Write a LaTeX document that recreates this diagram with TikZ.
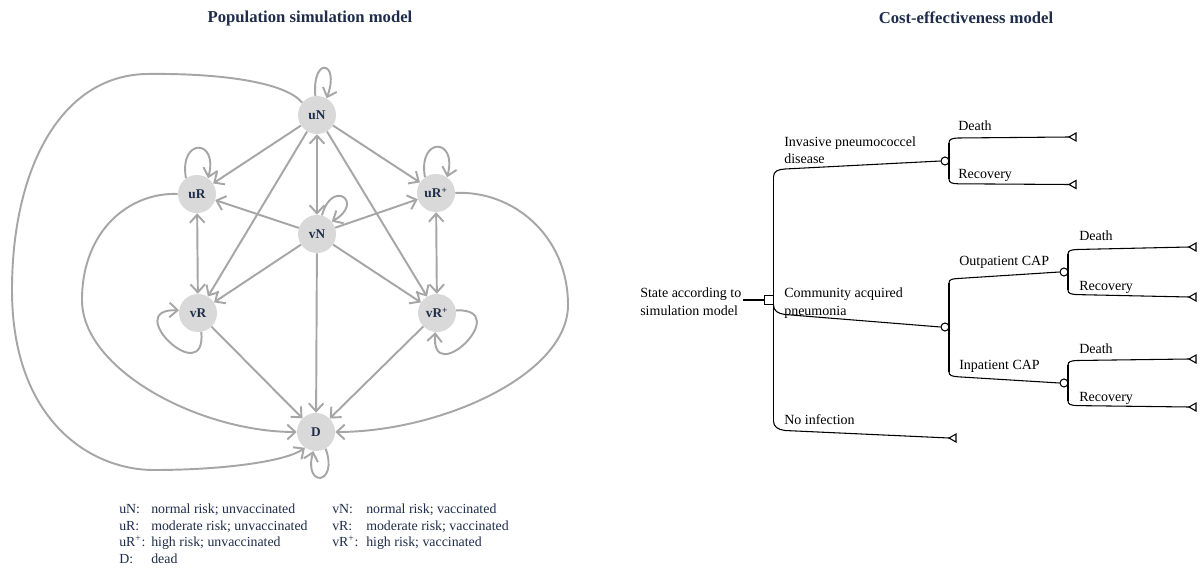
\documentclass[tikz,border=0pt]{standalone}
\usepackage{fontspec}
\setmainfont{Liberation Serif}
\usetikzlibrary{arrows.meta}
\definecolor{edgegray}{HTML}{A6A6A6}
\definecolor{nodefill}{HTML}{D9D9D9}
\definecolor{navy}{HTML}{1F2D4A}
\begin{document}
\begin{tikzpicture}[x=0.75pt,y=-0.75pt,
  state/.style={circle, fill=nodefill, minimum size=28.5pt, inner sep=0pt, font=\fontsize{10}{12}\selectfont\bfseries, text=navy},
  arr/.style={draw=edgegray, line width=1.45pt, -{Straight Barb[length=6pt,width=11pt]}},
  darr/.style={draw=edgegray, line width=1.45pt, {Straight Barb[length=6pt,width=11pt]}-{Straight Barb[length=6pt,width=11pt]}},
  ttl/.style={font=\fontsize{12.5}{15}\selectfont\bfseries, text=navy},
  leg/.style={anchor=base west, font=\fontsize{10.4}{12}\selectfont, text=navy, inner sep=0pt},
  lbl/.style={anchor=base west, font=\fontsize{10.5}{12}\selectfont, inner sep=0pt},
  tree/.style={draw=black, line width=0.8pt},
  chance/.style={circle, draw=black, fill=white, line width=0.8pt, minimum size=6pt, inner sep=0pt},
  decn/.style={rectangle, draw=black, fill=white, line width=0.8pt, minimum size=6.4pt, inner sep=0pt}
]
\fill[white] (0,0) rectangle (1200,574);
\useasboundingbox (0,0) rectangle (1200,574);

% titles
\node[ttl] (t1) at (310,18) {Population simulation model};
\node[ttl] (t2) at (966,18) {Cost-effectiveness model};

% states
\node[state] (uN) at (317,115) {uN};
\node[state] (uR) at (197,194) {uR};
\node[state] (uRp) at (436,193) {uR\textsuperscript{+}};
\node[state] (vN) at (317,234) {vN};
\node[state] (vR) at (198,313) {vR};
\node[state] (vRp) at (437,313) {vR\textsuperscript{+}};
\node[state] (D) at (316,432) {D};

% self loops
\draw[arr] (uN.95) .. controls +(95:30pt) and +(70:30pt) .. (uN.60);
\draw[arr] (uR.125) .. controls +(100:31pt) and +(75:31pt) .. (uR.55);
\draw[arr] (uRp.125) .. controls +(100:31pt) and +(75:31pt) .. (uRp.55);
\draw[arr] (vN.75) .. controls +(75:29pt) and +(30:29pt) .. (vN.40);
\draw[arr] (vR.280) .. controls +(275:44pt) and +(178:44pt) .. (vR.172);
\draw[arr] (vRp.8) .. controls +(2:44pt) and +(265:44pt) .. (vRp.265);
\draw[arr] (D.300) .. controls +(290:29pt) and +(255:29pt) .. (D.262);

% straight edges
\draw[arr] (uN) -- (uR);
\draw[arr] (uN) -- (uRp);
\draw[darr] (uN) -- (vN);
\draw[arr] (uN) -- (vR);
\draw[arr] (uN) -- (vRp);
\draw[arr] (vN) -- (uR);
\draw[arr] (vN) -- (uRp);
\draw[arr] (vN) -- (vR);
\draw[arr] (vN) -- (vRp);
\draw[arr] (vN) -- (D);
\draw[darr] (uR) -- (vR);
\draw[darr] (uRp) -- (vRp);
\draw[arr] (vR) -- (D);
\draw[arr] (vRp) -- (D);

% curved edges
\draw[arr] (uR.180) .. controls (130,192) and (82,230) .. (82,300) .. controls (82,370) and (200,432) .. (D.180);
\draw[arr] (uRp.0) .. controls (512,190) and (568,235) .. (568,305) .. controls (568,375) and (440,432) .. (D.0);
\draw[arr] (uN.140) .. controls (285,82) and (220,73) .. (146,74) .. controls (60,76) and (12,170) .. (12,290) .. controls (12,420) and (90,470) .. (154,470) .. controls (220,470) and (285,462) .. (D.235);

% legend
\node[leg] (l1a) at (119,513) {uN:};
\node[leg] (l1b) at (151,513) {normal risk; unvaccinated};
\node[leg] (l2a) at (119,530) {uR:};
\node[leg] (l2b) at (151,530) {moderate risk; unvaccinated};
\node[leg] (l3a) at (119,546) {uR\textsuperscript{+}:};
\node[leg] (l3b) at (151,546) {high risk; unvaccinated};
\node[leg] (l4a) at (119,563) {D:};
\node[leg] (l4b) at (151,563) {dead};
\node[leg] (r1a) at (332,513) {vN:};
\node[leg] (r1b) at (366,513) {normal risk; vaccinated};
\node[leg] (r2a) at (332,530) {vR:};
\node[leg] (r2b) at (366,530) {moderate risk; vaccinated};
\node[leg] (r3a) at (332,546) {vR\textsuperscript{+}:};
\node[leg] (r3b) at (366,546) {high risk; vaccinated};

% decision tree
\node[lbl] (s1) at (640,297) {State according to};
\node[lbl] (s2) at (640,315) {simulation model};
\node[decn] (dec) at (769,300) {};
\draw[line width=2.2pt] (743,300) -- (dec.west);

\node[chance] (cI) at (945,161) {};
\node[chance] (cC) at (945,327) {};
\node[chance] (cO) at (1064,272) {};
\node[chance] (cP) at (1064,383) {};
\coordinate (tID) at (1069,137);
\coordinate (tIR) at (1069,184.5);
\coordinate (tOD) at (1189,247);
\coordinate (tOR) at (1189,297);
\coordinate (tPD) at (1189,359);
\coordinate (tPR) at (1189,407);
\coordinate (tN) at (949,438);

% level 1
\draw[tree] (773.5,177) -- (773.5,421);
\draw[tree] (773.5,177) .. controls (773.5,171) and (778,169.5) .. (785,169) -- (cI.west);
\draw[tree] (773.5,305) .. controls (773.5,311) and (778,313.5) .. (785,314.5) -- (cC.west);
\draw[tree] (773.5,421) .. controls (773.5,427) and (778,429.5) .. (785,430.5) -- (tN);
% level 2
\draw[tree] (949,143) -- (949,179);
\draw[tree] (949,143) .. controls (949,139) and (952,138.3) .. (958,138) -- (tID);
\draw[tree] (949,179) .. controls (949,183) and (952,183.5) .. (958,183.8) -- (tIR);
\draw[tree] (949,283) -- (949,372);
\draw[tree] (949,283) .. controls (949,279.5) and (952,278.8) .. (958,278.5) -- (cO.west);
\draw[tree] (949,372) .. controls (949,375.5) and (952,376.3) .. (958,376.8) -- (cP.west);
% level 3
\draw[tree] (1068,254) -- (1068,290);
\draw[tree] (1068,254) .. controls (1068,250.5) and (1071,249.8) .. (1077,249.5) -- (tOD);
\draw[tree] (1068,290) .. controls (1068,293.5) and (1071,294.3) .. (1077,294.6) -- (tOR);
\draw[tree] (1068,365) -- (1068,401);
\draw[tree] (1068,365) .. controls (1068,361.5) and (1071,360.8) .. (1077,360.5) -- (tPD);
\draw[tree] (1068,401) .. controls (1068,404.5) and (1071,405.3) .. (1077,405.6) -- (tPR);

\foreach \t in {tID,tIR,tOD,tOR,tPD,tPR,tN}
  \draw[tree, fill=white] (\t) -- ++(7,-4) -- ++(0,8) -- cycle;

\node[lbl] (a1) at (784,147) {Invasive pneumococcel};
\node[lbl] (a2) at (784,164) {disease};
\node[lbl] (b1) at (784,297) {Community acquired};
\node[lbl] (b2) at (784,315) {pneumonia};
\node[lbl] (c1) at (784,424) {No infection};
\node[lbl] (d1) at (958,131) {Death};
\node[lbl] (d2) at (958,179) {Recovery};
\node[lbl] (e1) at (959,266) {Outpatient CAP};
\node[lbl] (e2) at (959,369) {Inpatient CAP};
\node[lbl] (f1) at (1079,241) {Death};
\node[lbl] (f2) at (1079,290) {Recovery};
\node[lbl] (g1) at (1079,353) {Death};
\node[lbl] (g2) at (1079,401) {Recovery};
\end{tikzpicture}
\end{document}
